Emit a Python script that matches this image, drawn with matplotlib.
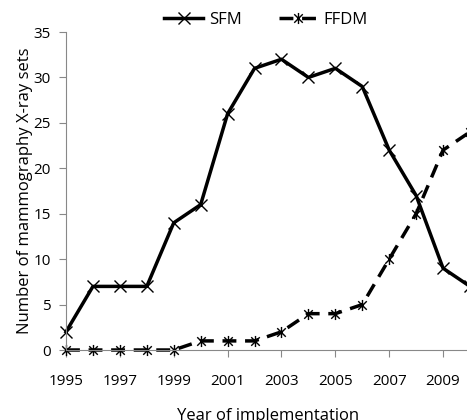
import matplotlib.pyplot as plt
from matplotlib.path import Path

years = [1995, 1996, 1997, 1998, 1999, 2000, 2001, 2002, 2003, 2004, 2005, 2006, 2007, 2008, 2009, 2010]
sfm = [2, 7, 7, 7, 14, 16, 26, 31, 32, 30, 31, 29, 22, 17, 9, 7]
ffdm = [0, 0, 0, 0, 0, 1, 1, 1, 2, 4, 4, 5, 10, 15, 22, 24]
xticks = [1995, 1997, 1999, 2001, 2003, 2005, 2007, 2009]

plt.rcParams['font.family'] = ['Open Sans', 'DejaVu Sans']

# asterisk marker like Excel's: x plus a vertical bar
star = Path([(-1, -1), (1, 1), (-1, 1), (1, -1), (0, -1.3), (0, 1.3)],
            [Path.MOVETO, Path.LINETO, Path.MOVETO, Path.LINETO, Path.MOVETO, Path.LINETO])

fig = plt.figure(figsize=(4.67, 4.2), dpi=100)
ax = fig.add_axes([66 / 467, 70 / 420, 404 / 467, 318 / 420])

ax.plot(years, sfm, color='black', lw=2.5, marker='x', markersize=8,
        markeredgewidth=1, label='SFM', clip_on=False)
ax.plot(years, ffdm, color='black', lw=2.5, dashes=(4, 2.5), marker=star,
        markersize=8, markeredgewidth=1, label='FFDM', clip_on=False)

ax.set_xlim(1995, 2010)
ax.set_ylim(0, 35)
ax.set_xticks(xticks)
ax.set_yticks(range(0, 36, 5))
ax.tick_params(labelsize=11, colors='#888888', labelcolor='black', length=5)
ax.tick_params(axis='x', pad=12)
ax.tick_params(axis='y', pad=6)
for s in ['top', 'right']:
    ax.spines[s].set_visible(False)
for s in ['left', 'bottom']:
    ax.spines[s].set_color('#888888')
ax.set_xlabel('Year of implementation', fontsize=12, labelpad=14)
ax.set_ylabel('Number of mammography X-ray sets', fontsize=12, labelpad=0)

fig.legend(loc='center', bbox_to_anchor=(0.57, 0.952), ncol=2, frameon=False,
           fontsize=12, handlelength=2.3, columnspacing=2.2, handletextpad=0.4)

plt.savefig('out.png')
